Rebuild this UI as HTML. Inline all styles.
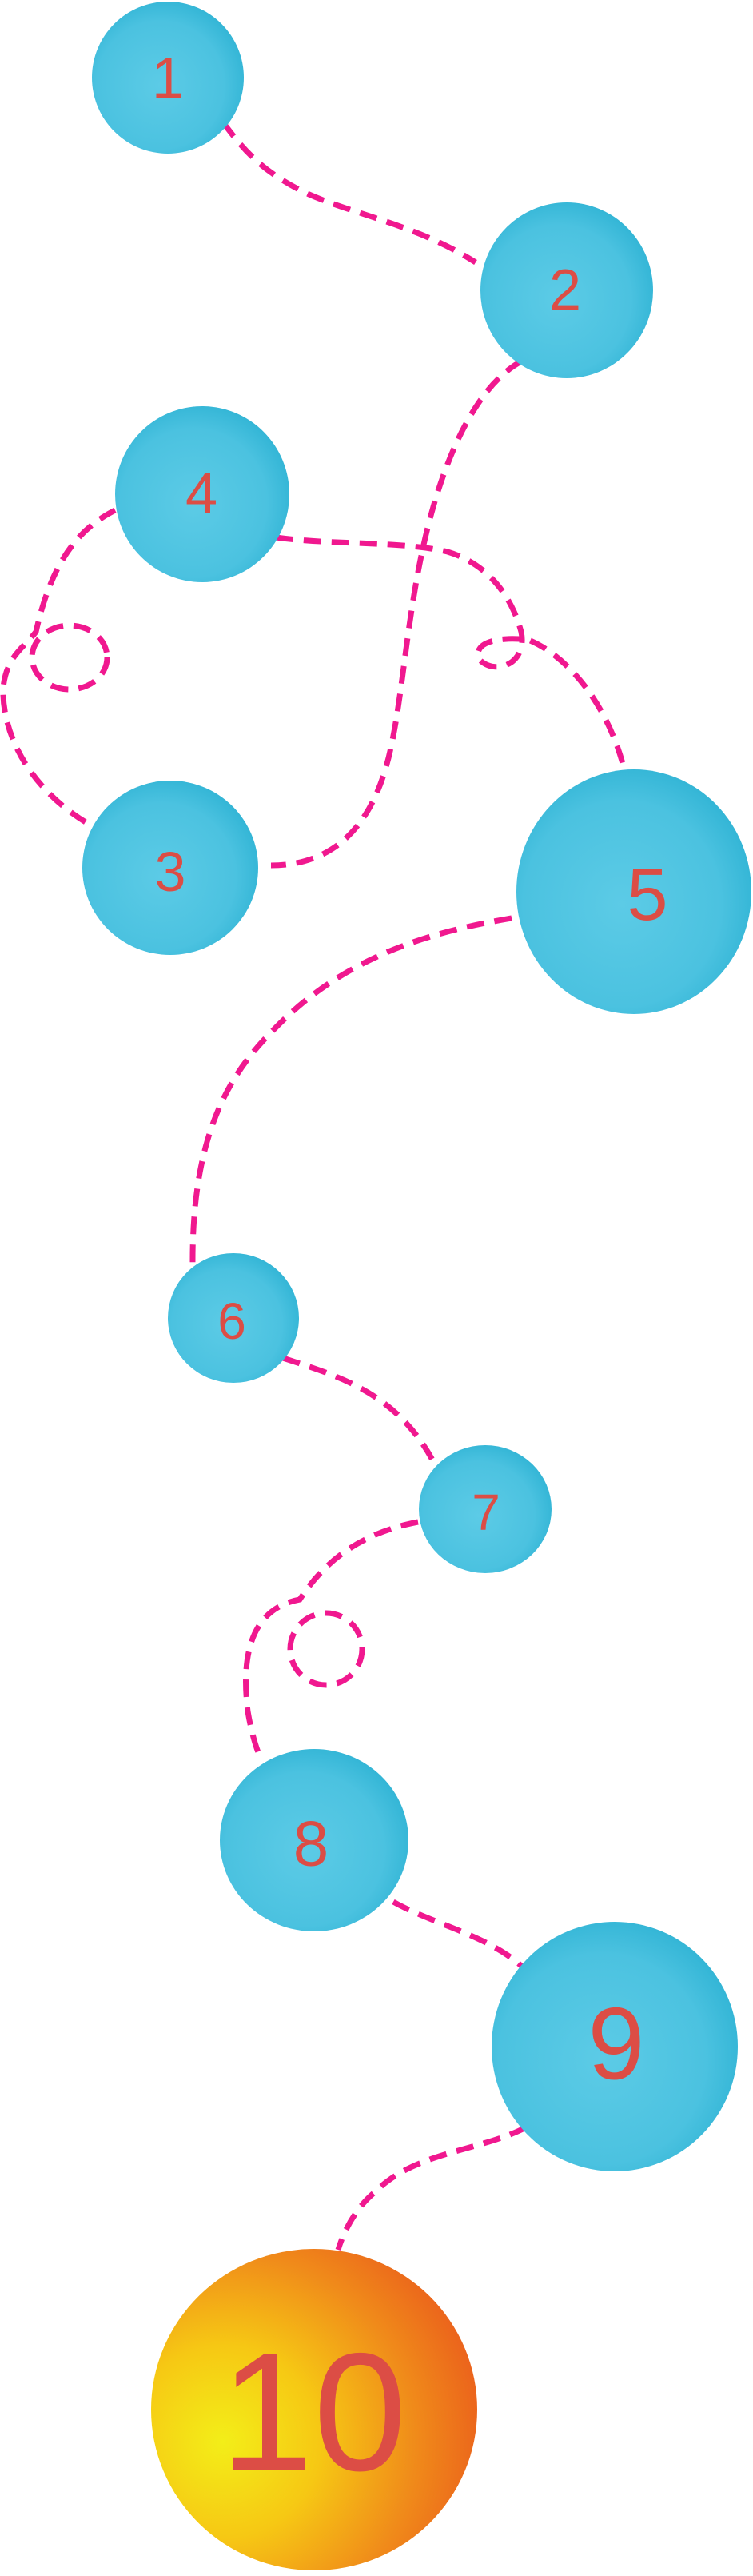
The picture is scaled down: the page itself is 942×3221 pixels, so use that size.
<!DOCTYPE html>
<html><head><meta charset="utf-8"><style>
html,body{margin:0;padding:0;background:#fff}
svg{display:block}
text{font-family:"Liberation Sans","DejaVu Sans",sans-serif;fill:#dc4d45;text-anchor:middle;dominant-baseline:central}
</style></head><body>
<svg width="942" height="3221" viewBox="0 0 942 3221" xmlns="http://www.w3.org/2000/svg">
<defs>
<radialGradient id="b" cx="45%" cy="55%" r="60%">
<stop offset="0" stop-color="#5ccbe6"/><stop offset="0.7" stop-color="#4bc2e0"/><stop offset="1" stop-color="#2fb3d4"/>
</radialGradient>
<radialGradient id="o" cx="22%" cy="60%" r="85%">
<stop offset="0" stop-color="#f3ee18"/><stop offset="0.35" stop-color="#f6c814"/><stop offset="0.7" stop-color="#f08a1a"/><stop offset="1" stop-color="#ea5a1c"/>
</radialGradient>
</defs>
<g fill="none" stroke="#f0188f" stroke-width="7" stroke-dasharray="22 13">
<path d="M279,153 C300,180 320,210 380,240 C440,268 520,280 595,328"/>
<path d="M652,452 C600,480 560,560 535,660 C510,760 505,860 490,930 C470,1030 420,1082 339,1082"/>
<path d="M345,672 C420,682 500,676 560,690 C610,705 640,745 652,790 C660,830 620,845 600,825 C590,805 620,795 661,800 C710,820 760,880 781,962"/>
<path d="M144,638 C100,660 65,700 45,790 C30,810 8,820 4,860 C2,920 40,990 114,1032"/>
<ellipse cx="87" cy="822" rx="47" ry="40"/>
<path d="M640,1148 C540,1165 430,1195 340,1290 C280,1350 240,1430 241,1582"/>
<path d="M354,1698 C420,1720 500,1740 547,1837"/>
<path d="M523,1903 C460,1915 410,1945 375,2000 C320,2010 300,2060 310,2140 C315,2170 322,2190 327,2201"/>
<ellipse cx="408" cy="2062" rx="45" ry="45"/>
<path d="M492,2378 C540,2405 610,2420 652,2458"/>
<path d="M658,2660 C600,2690 520,2690 470,2740 C445,2760 430,2790 423,2813"/>
</g>
<g fill="url(#b)">
<ellipse cx="210" cy="97" rx="95" ry="95"/>
<ellipse cx="709" cy="363" rx="108" ry="110"/>
<ellipse cx="253" cy="618" rx="109" ry="110"/>
<ellipse cx="213" cy="1085" rx="110" ry="109"/>
<ellipse cx="793" cy="1115" rx="147" ry="153"/>
<ellipse cx="292" cy="1648" rx="82" ry="81"/>
<ellipse cx="607" cy="1887" rx="83" ry="80"/>
<ellipse cx="393" cy="2301" rx="118" ry="114"/>
<ellipse cx="769" cy="2559" rx="154" ry="156"/>
</g>
<ellipse cx="393" cy="3013" rx="204" ry="201" fill="url(#o)"/>
<text x="210" y="98" font-size="72">1</text>
<text x="707" y="363" font-size="72">2</text>
<text x="252" y="618" font-size="72">4</text>
<text x="213" y="1090" font-size="70">3</text>
<text x="810" y="1119" font-size="92">5</text>
<text x="290" y="1652" font-size="64">6</text>
<text x="608" y="1891" font-size="64">7</text>
<text x="389" y="2305" font-size="80">8</text>
<text x="771" y="2556" font-size="128">9</text>
<text x="392" y="3016" font-size="210">10</text>
</svg>
</body></html>
